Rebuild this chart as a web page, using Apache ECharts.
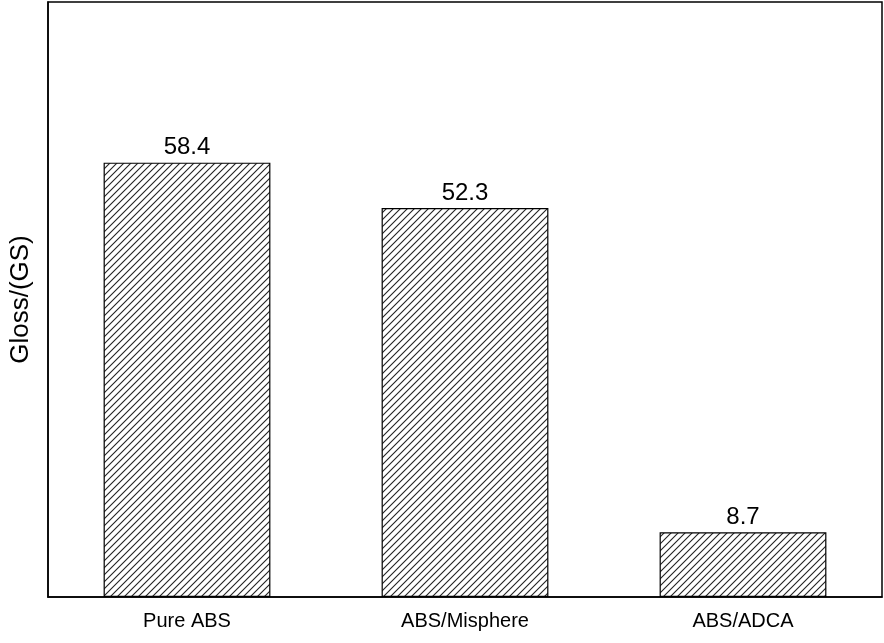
<!DOCTYPE html>
<html><head><meta charset="utf-8">
<script src="https://cdn.jsdelivr.net/npm/echarts@6/dist/echarts.min.js"></script>
<style>html,body{margin:0;padding:0;background:#fff}#c{width:884px;height:643px}</style>
</head><body><div id="c"></div>
<script>
const categories = ['Pure ABS', 'ABS/Misphere', 'ABS/ADCA'];
const glossValues = [58.4, 52.3, 8.7];
const yAxisName = 'Gloss/(GS)';

const pc = document.createElement('canvas');
pc.width = 7; pc.height = 7;
const ctx = pc.getContext('2d');
ctx.fillStyle = '#fff'; ctx.fillRect(0,0,7,7);
ctx.strokeStyle = '#222'; ctx.lineWidth = 1.1;
ctx.beginPath();
ctx.moveTo(-1,8); ctx.lineTo(8,-1);
ctx.moveTo(-4,4); ctx.lineTo(4,-4);
ctx.moveTo(3,11); ctx.lineTo(11,3);
ctx.stroke();

const chart = echarts.init(document.getElementById('c'));
chart.setOption({
  animation:false,
  grid:{left:42,right:2,top:2,bottom:46,show:true,borderColor:'#000',borderWidth:1.5},
  xAxis:{type:'category',data:categories,
    axisLine:{lineStyle:{color:'#000',width:1.5}},axisTick:{show:false},
    axisLabel:{color:'#000',fontSize:20,fontFamily:'Liberation Sans, Arial',margin:14}},
  yAxis:{type:'value',min:0,max:80,name:yAxisName,nameLocation:'middle',nameGap:14,
    nameTextStyle:{color:'#000',fontSize:26,fontFamily:'Liberation Sans, Arial'},
    axisLabel:{show:false},axisTick:{show:false},splitLine:{show:false},
    axisLine:{show:true,lineStyle:{color:'#000',width:1.5}}},
  series:[{type:'bar',data:glossValues,barWidth:'60%',
    itemStyle:{color:{image:pc,repeat:'repeat'},borderColor:'#000',borderWidth:1.2},
    label:{show:true,position:'top',color:'#000',fontSize:24,fontFamily:'Liberation Sans, Arial',distance:3}}]
});
</script></body></html>
